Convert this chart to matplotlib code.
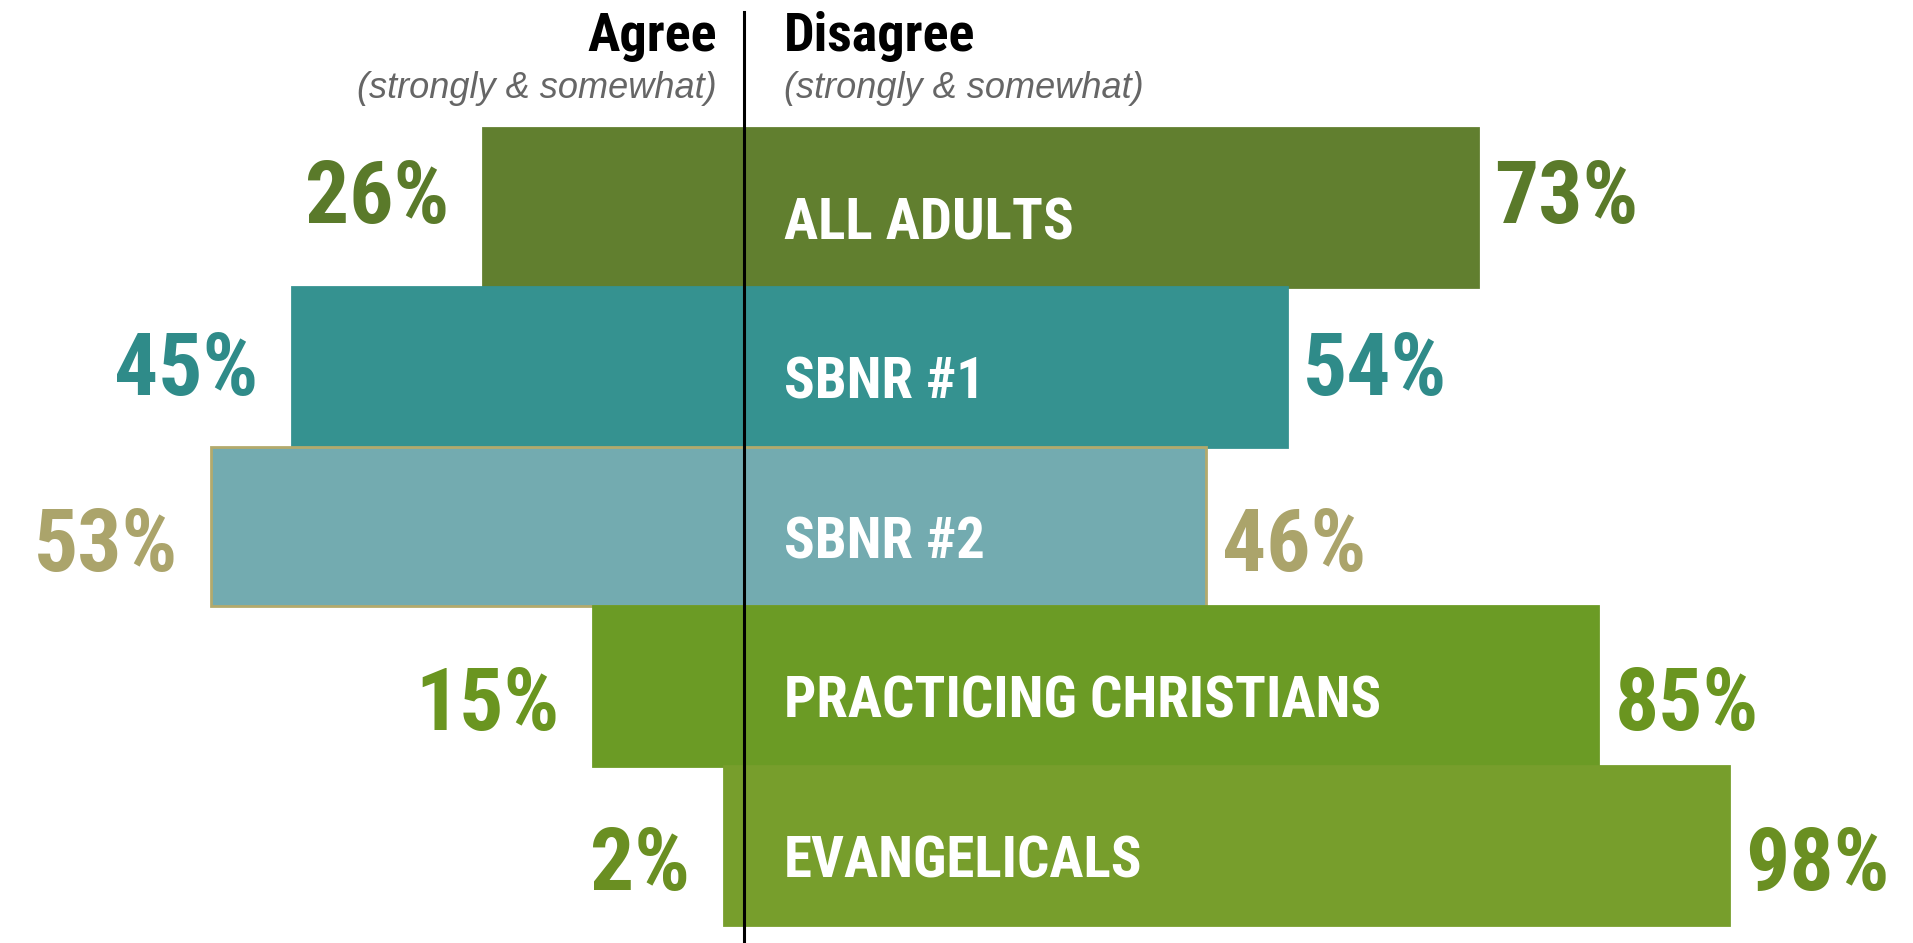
import matplotlib.pyplot as plt
from matplotlib import font_manager as fm
import numpy as np

# survey groups, top to bottom
groups = ["ALL ADULTS", "SBNR #1", "SBNR #2", "PRACTICING CHRISTIANS", "EVANGELICALS"]
agree = [26, 45, 53, 15, 2]
disagree = [73, 54, 46, 85, 98]

bar_colors = ["#617f2f", "#359290", "#73abb0", "#6b9b25", "#779e2c"]
edge_colors = ["#617f2f", "#359290", "#b3aa6c", "#6b9b25", "#779e2c"]
pct_colors = ["#5a7a2a", "#2f8b89", "#aba46b", "#6a9520", "#6a8f22"]

# the percent labels sit a bit off the bar centres in the original
label_shift = [-0.10, -0.02, 0.08, 0.08, 0.08]


# look for a condensed bold face, fall back to DejaVu Sans Bold
def find_condensed_bold():
    prefs = ["robotocondensed-bold.", "liberationsansnarrow-bold.", "dejavusanscondensed-bold.",
             "notosans-condensedbold.", "opensans-condensedbold.", "opensans_condensed-bold."]
    files = [f.fname for f in fm.fontManager.ttflist]
    for p in prefs:
        for fn in files:
            if fn.lower().endswith(p + "ttf") or fn.lower().endswith(p + "otf"):
                return fn
    for fn in files:
        low = fn.lower()
        if ("condensed" in low or "narrow" in low) and "bold" in low and "italic" not in low \
                and "semi" not in low and "extra" not in low:
            return fn
    return None


cond_file = find_condensed_bold()
if cond_file:
    bold = fm.FontProperties(fname=cond_file)
    k = 1.0
else:
    bold = fm.FontProperties(family="DejaVu Sans", weight="bold")
    k = 0.78
sub = fm.FontProperties(family=["Liberation Sans", "DejaVu Sans"], style="italic")

fig = plt.figure(figsize=(19.13, 9.43), dpi=100)
ax = fig.add_axes([0, 0, 1, 1])

y = np.arange(len(groups))
ax.barh(y, [-a for a in agree], height=1.0, color=bar_colors,
        edgecolor=edge_colors, linewidth=2)
ax.barh(y, disagree, height=1.0, color=bar_colors,
        edgecolor=edge_colors, linewidth=2)

pct_size = 63 * k
for i in range(len(groups)):
    yb = y[i] + label_shift[i] + 0.195
    ax.text(-agree[i] - 3.3, yb, f"{agree[i]}%", ha="right", va="baseline",
            fontproperties=bold, fontsize=pct_size, color=pct_colors[i])
    ax.text(disagree[i] + 1.6, yb, f"{disagree[i]}%", ha="left", va="baseline",
            fontproperties=bold, fontsize=pct_size, color=pct_colors[i])
    ax.text(4.0, y[i] + 0.1, groups[i], ha="left", va="center",
            fontproperties=bold, fontsize=41 * k, color="white")

# headers
ax.text(-2.7, -0.982, "Agree", ha="right", va="baseline",
        fontproperties=bold, fontsize=39 * k, color="black")
ax.text(4.0, -0.982, "Disagree", ha="left", va="baseline",
        fontproperties=bold, fontsize=39 * k, color="black")
ax.text(-2.7, -0.69, "(strongly & somewhat)", ha="right", va="baseline",
        fontproperties=sub, fontsize=26, color="#666666")
ax.text(4.0, -0.69, "(strongly & somewhat)", ha="left", va="baseline",
        fontproperties=sub, fontsize=26, color="#666666")

# center divider
ax.plot([0, 0], [-1.227, 4.7], color="black", linewidth=2.2, zorder=5)

ax.set_xlim(-74.0, 116.3)
ax.set_ylim(4.61, -1.302)
ax.axis("off")

fig.savefig("out.png", dpi=100, facecolor="white")
